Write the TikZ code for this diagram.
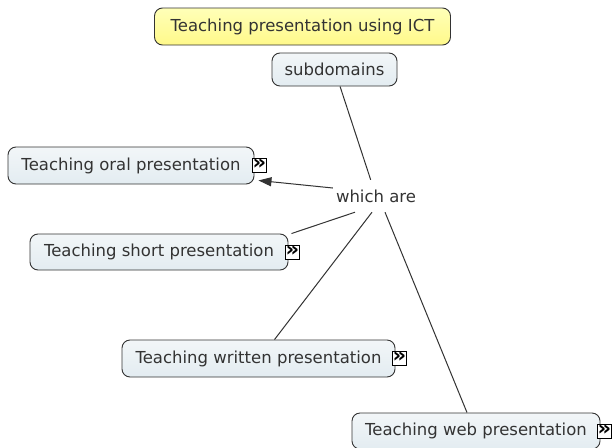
\documentclass[tikz,border=0pt]{standalone}
\usepackage{fontspec}
\setmainfont{DejaVu Sans}
\usepackage{tikz}
\usetikzlibrary{arrows.meta,positioning}
\definecolor{titletint}{HTML}{FFFFB8}
\definecolor{titlefill}{HTML}{FFF98A}
\definecolor{concepttint}{HTML}{F2F6F8}
\definecolor{conceptfill}{HTML}{E3ECF1}
\definecolor{inkgray}{HTML}{333333}

\begin{document}
\begin{tikzpicture}[
    x=1pt, y=-1pt,
    font=\fontsize{16.5}{19}\selectfont,
    box/.style={draw=inkgray, line width=0.9pt, rounded corners=8pt, minimum height=36pt, align=center, inner sep=4pt, text=inkgray},
    titlebox/.style={box, top color=titletint, bottom color=titlefill},
    concept/.style={box, top color=concepttint, bottom color=conceptfill},
    phrase/.style={minimum width=86pt, minimum height=32pt, inner sep=0pt, text=inkgray},
    morebtn/.style={draw=black, fill=white, line width=0.7pt, minimum size=14pt, inner sep=0pt, text height=8pt, text depth=0pt, font=\bfseries\fontsize{21}{21}\selectfont},
    link/.style={draw=inkgray, line width=1pt}
]
  \useasboundingbox[fill=white] (0,0) rectangle (612,447);

  \node[titlebox, minimum width=296pt, minimum height=37pt] (title) at (302.5,26.5) {Teaching presentation using ICT};
  \node[concept, minimum width=125pt, minimum height=33pt] (sub) at (334.5,69.5) {subdomains};
  \node[phrase] (which) at (376,196) {which are};

  \node[concept, minimum width=246pt, minimum height=37pt] (oral) at (131,165.5) {Teaching oral presentation};
  \node[concept, minimum width=258pt] (short) at (159,252) {Teaching short presentation};
  \node[concept, minimum width=273pt, minimum height=37pt] (written) at (258.5,358.5) {Teaching written presentation};
  \node[concept, minimum width=248pt] (web) at (476,431) {Teaching web presentation};

  \node[morebtn] (oralbtn) at ([xshift=5pt]oral.east) {»};
  \node[morebtn] (shortbtn) at ([xshift=4pt]short.east) {»};
  \node[morebtn] (writtenbtn) at ([xshift=4pt]written.east) {»};
  \node[morebtn] (webbtn) at ([xshift=4pt]web.east) {»};

  \draw[link] (sub) -- (which);
  \draw[link, -{Triangle[length=13pt, width=9pt]}] ([yshift=8pt]which.west) -- ([shift={(4pt,4pt)}]oral.south east);
  \draw[link] ([xshift=-21pt]which.south) -- ([xshift=3pt]short.north east);
  \draw[link] ([xshift=-4pt]which.south) -- ([xshift=16pt]written.north);
  \draw[link] ([xshift=9pt]which.south) -- ([xshift=-9pt]web.north);
\end{tikzpicture}
\end{document}
